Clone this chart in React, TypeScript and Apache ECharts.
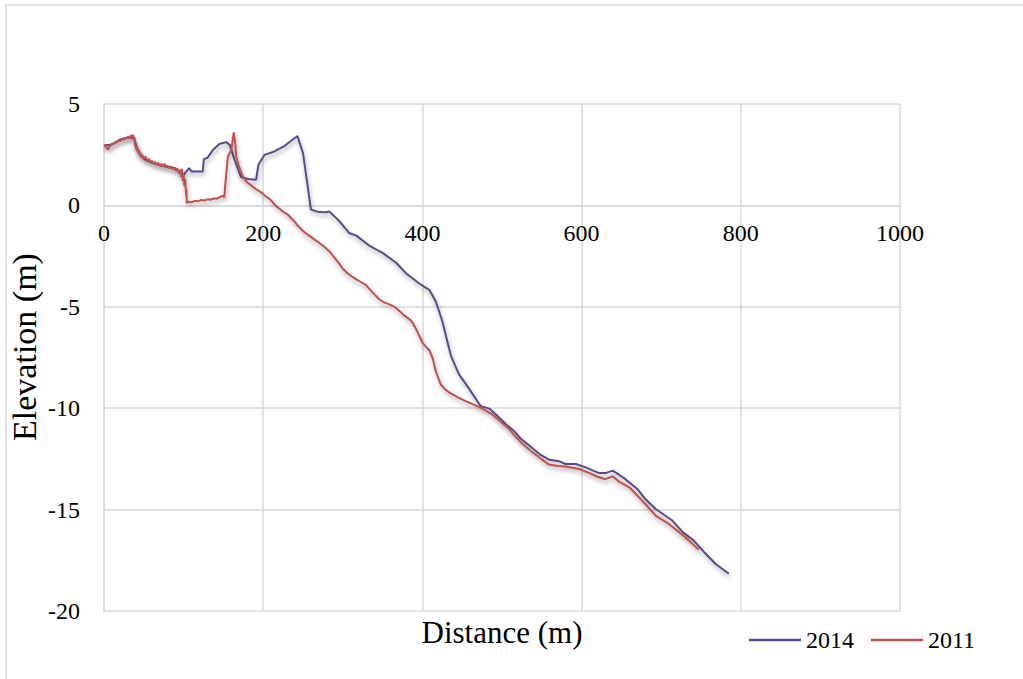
import React, { useEffect, useRef } from "react";
import * as echarts from "echarts";

const FONT = "Liberation Serif, Times New Roman, serif";

const xTicks = [0, 200, 400, 600, 800, 1000];
const yTicks = [-20, -15, -10, -5, 0, 5];

const dist2014 = [0, 10, 20, 30, 38, 42, 50, 60, 72, 89, 99, 107, 110, 124, 125.5, 130, 137, 145, 153.5, 158, 164, 172, 181, 191, 194, 201.5, 214, 227, 243, 250, 260, 270, 279, 283, 295, 308, 317, 333, 350, 367, 379, 396, 409, 417, 425, 430, 436, 446, 459, 473, 484, 492, 505, 515, 524, 532, 547, 559, 572, 580, 593, 605, 622, 630, 639, 647, 655, 670, 680, 693, 714, 727, 741, 754, 768, 785];
const elev2014 = [2.95, 3.0, 3.25, 3.35, 3.3, 2.7, 2.3, 2.1, 1.95, 1.84, 1.46, 1.84, 1.67, 1.67, 2.28, 2.35, 2.74, 3.03, 3.12, 2.98, 2.25, 1.4, 1.3, 1.26, 2.0, 2.49, 2.66, 2.94, 3.42, 2.58, -0.21, -0.33, -0.34, -0.3, -0.75, -1.36, -1.49, -1.98, -2.34, -2.83, -3.33, -3.85, -4.18, -4.75, -5.7, -6.5, -7.43, -8.33, -9.06, -9.89, -10.02, -10.3, -10.79, -11.12, -11.52, -11.77, -12.26, -12.54, -12.62, -12.75, -12.75, -12.92, -13.2, -13.2, -13.08, -13.28, -13.5, -13.98, -14.48, -14.97, -15.54, -16.11, -16.53, -17.1, -17.67, -18.16];

const dist2011 = [0, 2, 4, 5, 6, 8, 10, 12, 14, 16, 18, 20, 22, 24, 26, 28, 30, 32, 34, 35, 36, 37, 38, 39, 40, 41, 42, 43, 44, 45, 46, 47, 48, 50, 52, 54, 56, 58, 60, 62, 64, 66, 68, 70, 72, 74, 76, 78, 80, 82, 84, 86, 88, 90, 92, 94, 96, 97, 98, 99, 100, 101, 102, 103, 103.5, 104, 106, 110, 114, 118, 122, 126, 130, 134, 138, 142, 146, 149, 151, 155.6, 158, 160, 163, 165, 166, 169, 172, 175, 178.7, 182, 186, 189, 193, 196, 199.5, 203, 207, 211, 216, 220, 224.6, 228, 231, 235, 239, 243, 249.7, 255, 260, 265, 270.6, 277, 283, 290, 295, 300, 306, 312, 317, 321, 329, 333, 340, 346, 352, 358.5, 365, 371, 378, 384, 388, 394, 400, 405, 409, 413, 417, 423, 428, 434, 444, 455, 463, 471.5, 480, 488, 498, 509, 517, 526, 536, 547, 559, 570, 580, 597, 610, 620, 630, 639, 647, 660, 672, 683, 693, 702, 710, 722.5, 735, 747];
const elev2011 = [2.99, 2.9, 2.8, 2.75, 2.85, 2.95, 3.05, 3.02, 3.12, 3.1, 3.2, 3.15, 3.28, 3.22, 3.33, 3.27, 3.4, 3.3, 3.45, 3.35, 3.5, 3.3, 3.38, 2.95, 2.85, 2.72, 2.9, 2.55, 2.75, 2.45, 2.6, 2.35, 2.5, 2.3, 2.42, 2.2, 2.3, 2.12, 2.2, 2.05, 2.15, 2.0, 2.1, 1.95, 2.05, 1.9, 2.05, 1.88, 1.95, 1.82, 1.92, 1.78, 1.85, 1.72, 1.82, 1.65, 1.75, 1.4, 1.8, 1.2, 1.5, 0.95, 1.3, 0.5, 0.8, 0.12, 0.18, 0.15, 0.22, 0.2, 0.27, 0.24, 0.3, 0.28, 0.35, 0.33, 0.42, 0.48, 0.4, 2.41, 2.6, 2.74, 3.6, 3.0, 2.41, 2.0, 1.67, 1.4, 1.18, 1.08, 0.95, 0.85, 0.75, 0.68, 0.58, 0.45, 0.35, 0.2, -0.03, -0.15, -0.3, -0.38, -0.45, -0.62, -0.78, -0.98, -1.25, -1.42, -1.55, -1.7, -1.85, -2.05, -2.26, -2.6, -2.85, -3.12, -3.35, -3.52, -3.65, -3.74, -3.92, -4.1, -4.4, -4.64, -4.78, -4.88, -5.0, -5.21, -5.45, -5.62, -5.8, -6.25, -6.77, -7.0, -7.15, -7.55, -8.2, -8.82, -9.05, -9.23, -9.45, -9.66, -9.8, -9.95, -10.12, -10.32, -10.65, -11.03, -11.4, -11.77, -12.1, -12.43, -12.78, -12.85, -12.88, -13.0, -13.2, -13.38, -13.5, -13.36, -13.62, -13.9, -14.39, -14.85, -15.3, -15.52, -15.72, -16.11, -16.53, -16.97];

const zip = (xs: number[], ys: number[]) => xs.map((x, i) => [x, ys[i]]);

const GRID_TOP = 104;
const GRID_BOTTOM = 68;
const CHART_H = 679;

export default function App() {
  const ref = useRef<HTMLDivElement>(null);
  useEffect(() => {
    if (!ref.current) return;
    const chart = echarts.init(ref.current, undefined, { renderer: "svg" });
    const shadow = {
      shadowColor: "rgba(0,0,0,0.35)",
      shadowBlur: 4,
      shadowOffsetX: 1,
      shadowOffsetY: 3,
    };
    const yMin = yTicks[0];
    const yMax = yTicks[yTicks.length - 1];
    const plotH = CHART_H - GRID_TOP - GRID_BOTTOM;
    const zeroOffset = (plotH * (0 - yMin)) / (yMax - yMin);
    chart.setOption({
      animation: false,
      backgroundColor: "#ffffff",
      textStyle: { fontFamily: FONT },
      grid: { left: 104, right: 123, top: GRID_TOP, bottom: GRID_BOTTOM, containLabel: false },
      xAxis: {
        type: "value",
        min: xTicks[0],
        max: xTicks[xTicks.length - 1],
        interval: 200,
        position: "bottom",
        offset: -zeroOffset,
        axisLine: { show: true, onZero: false, lineStyle: { color: "#D9D9D9", width: 1.5 } },
        axisTick: { show: false },
        splitLine: { show: true, lineStyle: { color: "#D9D9D9", width: 1.5 } },
        axisLabel: {
          color: "#000",
          fontFamily: FONT,
          fontSize: 24,
          margin: 16,
          formatter: (v: number) => String(v),
        },
      },
      yAxis: {
        type: "value",
        min: yMin,
        max: yMax,
        interval: 5,
        axisLine: { show: true, onZero: false, lineStyle: { color: "#D9D9D9", width: 1.5 } },
        axisTick: { show: false },
        splitLine: { show: true, lineStyle: { color: "#D9D9D9", width: 1.5 } },
        axisLabel: {
          color: "#000",
          fontFamily: FONT,
          fontSize: 24,
          margin: 24,
          formatter: (v: number) => String(v),
        },
      },
      legend: {
        data: ["2014", "2011"],
        left: 744,
        top: 622,
        icon: "rect",
        itemWidth: 52,
        itemHeight: 2.5,
        itemGap: 17,
        textStyle: { color: "#000", fontFamily: FONT, fontSize: 24, lineHeight: 26 },
      },
      graphic: [
        {
          type: "rect",
          shape: { x: 6, y: 5, width: 1040, height: 700 },
          style: { fill: "none", stroke: "#D9D9D9", lineWidth: 1.5 },
          silent: true,
        },
        {
          type: "text",
          x: 502,
          y: 632,
          style: {
            text: "Distance (m)",
            fontFamily: FONT,
            fontSize: 31,
            fill: "#000",
            align: "center",
            verticalAlign: "middle",
          },
        },
        {
          type: "text",
          x: 24,
          y: 347,
          rotation: Math.PI / 2,
          style: {
            text: "Elevation (m)",
            fontFamily: FONT,
            fontSize: 34,
            fill: "#000",
            align: "center",
            verticalAlign: "middle",
          },
        },
      ],
      series: [
        {
          name: "2014",
          type: "line",
          data: zip(dist2014, elev2014),
          symbol: "none",
          showSymbol: false,
          lineStyle: { color: "#5B4A8B", width: 2, ...shadow },
          itemStyle: { color: "#5B4A8B" },
        },
        {
          name: "2011",
          type: "line",
          data: zip(dist2011, elev2011),
          symbol: "none",
          showSymbol: false,
          lineStyle: { color: "#C0504D", width: 2, ...shadow },
          itemStyle: { color: "#C0504D" },
        },
      ],
    });
    return () => chart.dispose();
  }, []);
  return (
    <div
      ref={ref}
      style={{ position: "absolute", left: 0, top: 0, width: 1023, height: 679 }}
    />
  );
}
